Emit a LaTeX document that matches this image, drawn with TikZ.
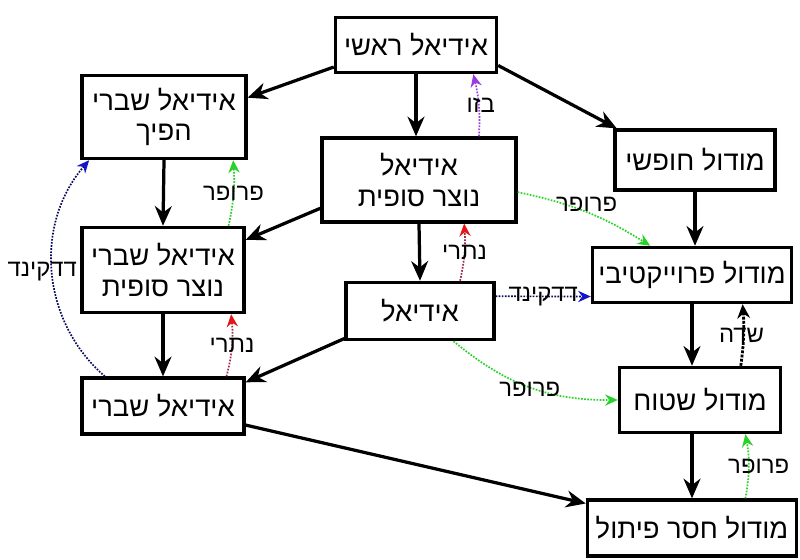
\documentclass[tikz,border=0pt]{standalone}
\usepackage{fontspec}
\newfontfamily\hebfont[Script=Hebrew]{Liberation Sans}
\TeXXeTstate=1
\usepackage{tikz}
\usetikzlibrary{arrows.meta,positioning}
\definecolor{bezoutcol}{RGB}{150,60,225}
\definecolor{prufercol}{RGB}{40,210,40}
\definecolor{noethercol}{RGB}{160,40,70}
\definecolor{noethertip}{RGB}{230,20,20}
\definecolor{dedekindcol}{RGB}{10,10,90}
\definecolor{dedekindtip}{RGB}{20,20,200}
\tikzset{% 
  ring box/.style={%
    draw,
    line width=2.3pt,
    align=center,
    inner sep=2pt,
    font=\hebfont\fontsize{19.5}{21.5}\selectfont
  }
}
\tikzset{% 
  implies/.style={%
    line width=2.3pt,
    -{Stealth[length=14pt,width=12pt]}
  }
}
\tikzset{% 
  condition/.style={%
    densely dotted,
    line width=1.2pt,
    font=\hebfont\fontsize{17}{19}\selectfont
  }
}
\newcommand{\heb}[1]{\beginR #1\endR}

\begin{document}
\begin{tikzpicture}
  \useasboundingbox (0,0) rectangle (20,14);
  \node[ring box, minimum width=4.03cm, minimum height=1.38cm] (main) at (10.4, 12.875) {\heb{אידיאל ראשי}};
  \node[ring box, minimum width=4.1cm, minimum height=2.08cm] (invertible) at (4.1, 11.075) {\heb{אידיאל שברי}\\\heb{הפיך}};
  \node[ring box, minimum width=4.85cm, minimum height=2.1cm] (fgideal) at (10.475, 9.5) {\heb{אידיאל}\\\heb{נוצר סופית}};
  \node[ring box, minimum width=4.0cm, minimum height=1.5cm] (free) at (17.375, 10.0) {\heb{מודול חופשי}};
  \node[ring box, minimum width=4.05cm, minimum height=2.13cm] (fgfrac) at (4.075, 7.25) {\heb{אידיאל שברי}\\\heb{נוצר סופית}};
  \node[ring box, minimum width=3.7cm, minimum height=1.43cm] (ideal) at (10.5, 6.225) {\heb{אידיאל}};
  \node[ring box, minimum width=4.98cm, minimum height=1.38cm] (projective) at (17.3, 7.125) {\heb{מודול פרוייקטיבי}};
  \node[ring box, minimum width=4.05cm, minimum height=1.4cm] (fracideal) at (4.075, 3.85) {\heb{אידיאל שברי}};
  \node[ring box, minimum width=4.03cm, minimum height=1.63cm] (flat) at (17.5, 4.0) {\heb{מודול שטוח}};
  \node[ring box, minimum width=5.23cm, minimum height=1.4cm] (torsionfree) at (17.3, 0.8) {\heb{מודול חסר פיתול}};
  % implications
  \draw[implies] (main.195) -- (invertible.13);
  \draw[implies] (main.south) -- (main.south |- fgideal.north);
  \draw[implies] (main.346) -- (free.158);
  \draw[implies] (invertible.south) -- (fgfrac.north);
  \draw[implies] (fgideal.196) -- (fgfrac.20);
  \draw[implies] (fgideal.south) -- (ideal.north);
  \draw[implies] (free.south) -- (free.south |- projective.north);
  \draw[implies] (fgfrac.south) -- (fracideal.north);
  \draw[implies] (ideal.200) -- (fracideal.16);
  \draw[implies] (projective.south) -- (projective.south |- flat.north);
  \draw[implies] (torsionfree.north |- flat.south) -- (torsionfree.north);
  \draw[implies] (fracideal.347) -- (torsionfree.167);
  % implications under a condition
  \draw[condition, bezoutcol, -{Stealth[length=9pt,width=8pt]}] (fgideal.36) to[bend right=8] node[midway, xshift=0.05cm, text=black] {\heb{בזו}} (main.333);
  \draw[condition, prufercol, -{Stealth[length=9pt,width=8pt]}] (fgfrac.34) to[bend right=8] node[midway, text=black] {\heb{פרופר}} (invertible.328);
  \draw[condition, prufercol, -{Stealth[length=9pt,width=8pt]}] (fgideal.353) to[bend left=10] node[midway, yshift=0.2cm, text=black] {\heb{פרופר}} (projective.145);
  \draw[condition, noethercol, -{Stealth[length=9pt,width=8pt,color=noethertip]}] (ideal.37) to[bend right=8] node[midway, text=black] {\heb{נתרי}} (fgideal.316);
  \draw[condition, noethercol, -{Stealth[length=9pt,width=8pt,color=noethertip]}] (fracideal.25) to[bend right=10] node[midway, text=black] {\heb{נתרי}} (fgfrac.327);
  \draw[condition, dedekindcol, -{Stealth[length=9pt,width=8pt,color=dedekindtip]}] (fracideal.153) to[bend left=45] node[midway, xshift=-0.25cm, text=black] {\heb{דדקינד}} (invertible.210);
  \draw[condition, dedekindcol, -{Stealth[length=9pt,width=8pt,color=dedekindtip]}] (ideal.11) -- node[midway, text=black] {\heb{דדקינד}} (projective.192);
  \draw[condition, prufercol, -{Stealth[length=9pt,width=8pt]}] (ideal.318) to[bend right=20] node[midway, yshift=-0.05cm, text=black] {\heb{פרופר}} (flat.west);
  \draw[condition, line width=2pt, black, -{Stealth[length=10pt,width=9pt]}] (flat.40) to[bend right=6] node[midway, xshift=-0.05cm] {\heb{שדה}} (projective.330);
  \draw[condition, prufercol, -{Stealth[length=9pt,width=8pt]}] (torsionfree.29) to[bend right=10] node[midway, xshift=0.25cm, text=black] {\heb{פרופר}} (flat.323);
\end{tikzpicture}
\end{document}
